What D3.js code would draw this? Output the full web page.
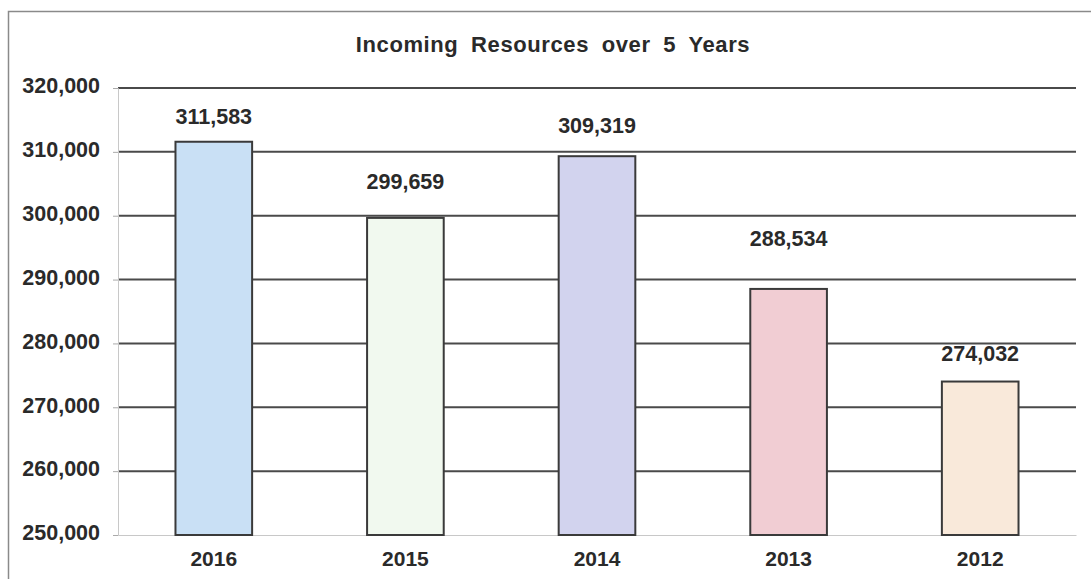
<!DOCTYPE html>
<html><head><meta charset="utf-8">
<script src="https://cdn.jsdelivr.net/npm/d3@7"></script>
<style>body{margin:0;background:#fff}svg{display:block}text{font-family:"Liberation Sans",Arial,sans-serif;font-weight:bold;fill:#2a2a2a}</style>
</head><body>
<script>
const categories = ["2016","2015","2014","2013","2012"];
const values = [311583, 299659, 309319, 288534, 274032];
const colors = ["#c9e0f5","#f1f9ef","#d2d3ee","#f1cdd3","#f9e9da"];
const yTicks = [250000,260000,270000,280000,290000,300000,310000,320000];
const labelGap = [18, 29, 23, 43, 21];
const title = "Incoming Resources over 5 Years";

const W = 1091, H = 579;
const m = {left:118, right:15, top:88, bottom:44};
const svg = d3.select("body").append("svg").attr("width",W).attr("height",H);

svg.append("rect").attr("x",8.5).attr("y",11.5).attr("width",1100).attr("height",600)
  .attr("fill","none").attr("stroke","#8a8a8a").attr("stroke-width",1.5);

const x = d3.scaleBand().domain(categories).range([m.left, W-m.right]).paddingInner(0.6).paddingOuter(0.3);
const y = d3.scaleLinear().domain([250000,320000]).range([H-m.bottom, m.top]);
const fmt = d3.format(",");

// gridlines
svg.append("g").selectAll("line").data(yTicks.slice(1)).join("line")
  .attr("x1",m.left).attr("x2",W-m.right).attr("y1",d=>y(d)).attr("y2",d=>y(d))
  .attr("stroke","#4a4a4a").attr("stroke-width",2);

// y axis
const ya = svg.append("g").attr("transform",`translate(${m.left},0)`)
  .call(d3.axisLeft(y).tickValues(yTicks).tickFormat(fmt).tickSize(5).tickPadding(13));
ya.select(".domain").attr("stroke","#c8c8c8");
ya.selectAll(".tick line").attr("stroke","#aaa");
ya.selectAll("text").attr("font-size",21.5).attr("dy","0.22em")
  .attr("fill","#2a2a2a").attr("font-family","Liberation Sans, Arial").attr("font-weight","bold");

// x axis
const xa = svg.append("g").attr("transform",`translate(0,${H-m.bottom})`)
  .call(d3.axisBottom(x).tickSize(0).tickPadding(13));
xa.select(".domain").attr("stroke","#c8c8c8");
xa.selectAll("text").attr("font-size",21).attr("fill","#2a2a2a")
  .attr("font-family","Liberation Sans, Arial").attr("font-weight","bold").attr("dy","0.85em");

// bars
svg.append("g").selectAll("rect").data(values).join("rect")
  .attr("x",(d,i)=>x(categories[i])).attr("width",x.bandwidth())
  .attr("y",d=>y(d)).attr("height",d=>y(250000)-y(d))
  .attr("fill",(d,i)=>colors[i]).attr("stroke","#3a3a3a").attr("stroke-width",2);

// labels
svg.append("g").selectAll("text").data(values).join("text")
  .attr("x",(d,i)=>x(categories[i])+x.bandwidth()/2)
  .attr("y",(d,i)=>y(d)-labelGap[i])
  .attr("text-anchor","middle").attr("font-size",21.5).text(d=>fmt(d));

svg.append("text").attr("x",553).attr("y",52).attr("text-anchor","middle")
  .attr("font-size",22).attr("letter-spacing","0.6px").attr("word-spacing","6px").text(title);
</script>
</body></html>
